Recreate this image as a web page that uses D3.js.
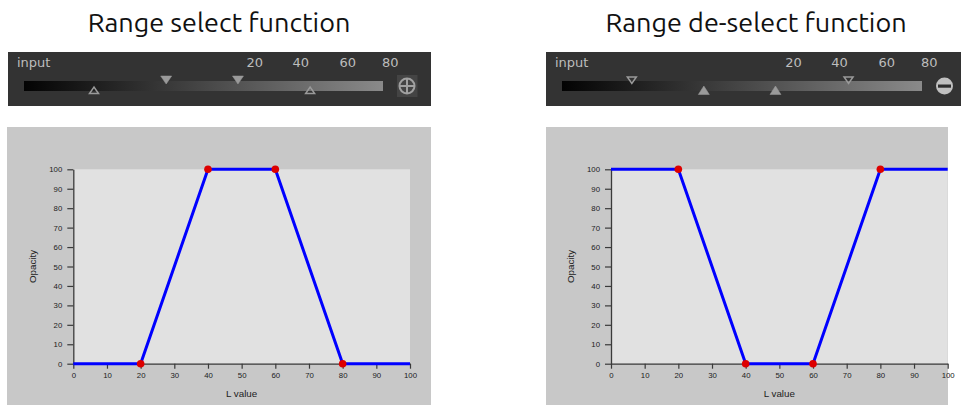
<!DOCTYPE html>
<html>
<head>
<meta charset="utf-8">
<script src="https://cdn.jsdelivr.net/npm/d3@7/dist/d3.min.js"></script>
<style>
  html, body { margin: 0; padding: 0; background: #ffffff; }
  svg { display: block; }
</style>
</head>
<body>
<svg id="chart" width="961" height="405"></svg>
<script>
// ---------- data ----------
const titles = ["Range select function", "Range de-select function"];
const xTicks = [0, 10, 20, 30, 40, 50, 60, 70, 80, 90, 100];
const yTicks = [0, 10, 20, 30, 40, 50, 60, 70, 80, 90, 100];
const selectX = [0, 20, 40, 60, 80, 100];
const selectY = [0, 0, 100, 100, 0, 0];
const deselectX = [0, 20, 40, 60, 80, 100];
const deselectY = [100, 100, 0, 0, 100, 100];
const markerIdx = [1, 2, 3, 4];          // points drawn with red dots
const sliderLabels = ["20", "40", "60", "80"];
const sliderLabelPos = [64.3, 77.1, 90.2, 102]; // in slider units (0-100 along bar)
const selectFilledDown = [39.6, 59.6];
const selectOpenUp = [19.5, 79.7];
const deselectOpenDown = [19.4, 79.6];
const deselectFilledUp = [39.4, 59.3];

const svg = d3.select("#chart");

// ---------- titles ----------
svg.selectAll("text.title").data(titles).join("text")
  .attr("class", "title")
  .attr("x", (d, i) => i === 0 ? 219 : 756)
  .attr("y", 32)
  .attr("text-anchor", "middle")
  .attr("font-family", "Ubuntu, 'Open Sans', 'DejaVu Sans', sans-serif")
  .attr("font-size", 27)
  .attr("fill", "#111")
  .text(d => d);

// ---------- slider widgets ----------
function widget(opt) {
  const g = svg.append("g");
  g.append("rect").attr("x", opt.x0).attr("y", 52).attr("width", opt.x1 - opt.x0).attr("height", 54)
    .attr("fill", "#333333");
  g.append("text").attr("x", opt.x0 + 9).attr("y", 67)
    .attr("font-family", "'DejaVu Sans', sans-serif").attr("font-size", 13)
    .attr("fill", "#bdbdbd").text("input");
  const s = d3.scaleLinear().domain([0, 100]).range([opt.bar0, opt.bar1]);
  const gid = "grad" + opt.id;
  const grad = svg.append("defs").append("linearGradient").attr("id", gid);
  grad.append("stop").attr("offset", "0%").attr("stop-color", "#030303");
  grad.append("stop").attr("offset", "100%").attr("stop-color", "#8a8a8a");
  g.append("rect").attr("x", opt.bar0).attr("y", 81).attr("width", opt.bar1 - opt.bar0).attr("height", 10)
    .attr("fill", `url(#${gid})`);
  g.selectAll("text.sl").data(sliderLabels).join("text")
    .attr("class", "sl")
    .attr("x", (d, i) => s(sliderLabelPos[i]))
    .attr("y", 67)
    .attr("text-anchor", "middle")
    .attr("font-family", "'DejaVu Sans', sans-serif").attr("font-size", 13)
    .attr("fill", "#bdbdbd").text(d => d);
  // down triangles (above bar)
  g.selectAll("path.dn").data(opt.down).join("path")
    .attr("class", "dn")
    .attr("d", d => { const x = s(d); return opt.downFilled
        ? `M${x-5.5},76 L${x+5.5},76 L${x},84 Z`
        : `M${x-4.5},77 L${x+4.5},77 L${x},83.5 Z`; })
    .attr("fill", opt.downFilled ? "#9a9a9a" : "none")
    .attr("stroke", "#9a9a9a").attr("stroke-width", opt.downFilled ? 0.5 : 1.5);
  // up triangles (below bar)
  g.selectAll("path.up").data(opt.up).join("path")
    .attr("class", "up")
    .attr("d", d => { const x = s(d); return opt.upFilled
        ? `M${x-5.5},94.5 L${x+5.5},94.5 L${x},86 Z`
        : `M${x-4.5},93.5 L${x+4.5},93.5 L${x},87 Z`; })
    .attr("fill", opt.upFilled ? "#9a9a9a" : "none")
    .attr("stroke", "#9a9a9a").attr("stroke-width", opt.upFilled ? 0.5 : 1.5);
  return g;
}

const w1 = widget({ id: 1, x0: 8, x1: 431, bar0: 24, bar1: 383,
  down: selectFilledDown, downFilled: true, up: selectOpenUp, upFilled: false });
w1.append("rect").attr("x", 397).attr("y", 75).attr("width", 20.5).attr("height", 22).attr("fill", "#444444");
w1.append("circle").attr("cx", 407).attr("cy", 86).attr("r", 7.5)
  .attr("fill", "none").attr("stroke", "#a0a0a0").attr("stroke-width", 2);
w1.append("path").attr("d", "M399.5,86 H414.5 M407,78.5 V93.5")
  .attr("stroke", "#a0a0a0").attr("stroke-width", 2);

const w2 = widget({ id: 2, x0: 546, x1: 961, bar0: 562, bar1: 922,
  down: deselectOpenDown, downFilled: false, up: deselectFilledUp, upFilled: true });
w2.append("circle").attr("cx", 944.5).attr("cy", 86).attr("r", 8.5).attr("fill", "#c0c0c0");
w2.append("rect").attr("x", 938).attr("y", 84.5).attr("width", 13).attr("height", 3.2).attr("fill", "#2e2e2e");

// ---------- line charts ----------
function lineChart(opt) {
  const g = svg.append("g");
  g.append("rect").attr("x", opt.p0).attr("y", 127).attr("width", opt.p1 - opt.p0).attr("height", 278)
    .attr("fill", "#c8c8c8");
  const x = d3.scaleLinear().domain([0, 100]).range([opt.x0, opt.x1]);
  const y = d3.scaleLinear().domain([0, 100]).range([363.7, 169.3]);
  g.append("rect").attr("x", x(0)).attr("y", y(100)).attr("width", x(100) - x(0)).attr("height", y(0) - y(100))
    .attr("fill", "#e1e1e1");

  const xa = g.append("g").attr("transform", `translate(0,${y(0)})`)
    .call(d3.axisBottom(x).tickValues(xTicks).tickSize(5).tickSizeOuter(0).tickPadding(4));
  const ya = g.append("g").attr("transform", `translate(${x(0)},0)`)
    .call(d3.axisLeft(y).tickValues(yTicks).tickSize(6).tickSizeOuter(0).tickPadding(5));
  [xa, ya].forEach(a => {
    a.selectAll("path.domain").attr("stroke", "#3a3a3a").attr("stroke-width", 1.3);
    a.selectAll(".tick line").attr("stroke", "#3a3a3a").attr("stroke-width", 1.2);
    a.selectAll(".tick text").attr("font-family", "'Liberation Sans', Arial, sans-serif")
      .attr("font-size", 7.8).attr("fill", "#222");
  });

  g.append("text").attr("x", (x(0) + x(100)) / 2).attr("y", 397)
    .attr("text-anchor", "middle").attr("font-family", "'Liberation Sans', Arial, sans-serif")
    .attr("font-size", 9.8).attr("fill", "#222").text("L value");
  g.append("text").attr("transform", `translate(${x(0) - 37},${(y(0) + y(100)) / 2}) rotate(-90)`)
    .attr("text-anchor", "middle").attr("font-family", "'Liberation Sans', Arial, sans-serif")
    .attr("font-size", 9.8).attr("fill", "#222").text("Opacity");

  const pts = opt.xs.map((d, i) => [d, opt.ys[i]]);
  g.append("path").datum(pts)
    .attr("d", d3.line().x(d => x(d[0])).y(d => y(d[1])))
    .attr("fill", "none").attr("stroke", "#0000ff").attr("stroke-width", 3);
  g.selectAll("circle.pt").data(markerIdx.map(i => pts[i])).join("circle")
    .attr("class", "pt")
    .attr("cx", d => x(d[0])).attr("cy", d => y(d[1])).attr("r", 3.8)
    .attr("fill", "#dd0000");
}

lineChart({ p0: 7, p1: 431, x0: 73.3, x1: 410, xs: selectX, ys: selectY });
lineChart({ p0: 546, p1: 948, x0: 611, x1: 947.7, xs: deselectX, ys: deselectY });
</script>
</body>
</html>
